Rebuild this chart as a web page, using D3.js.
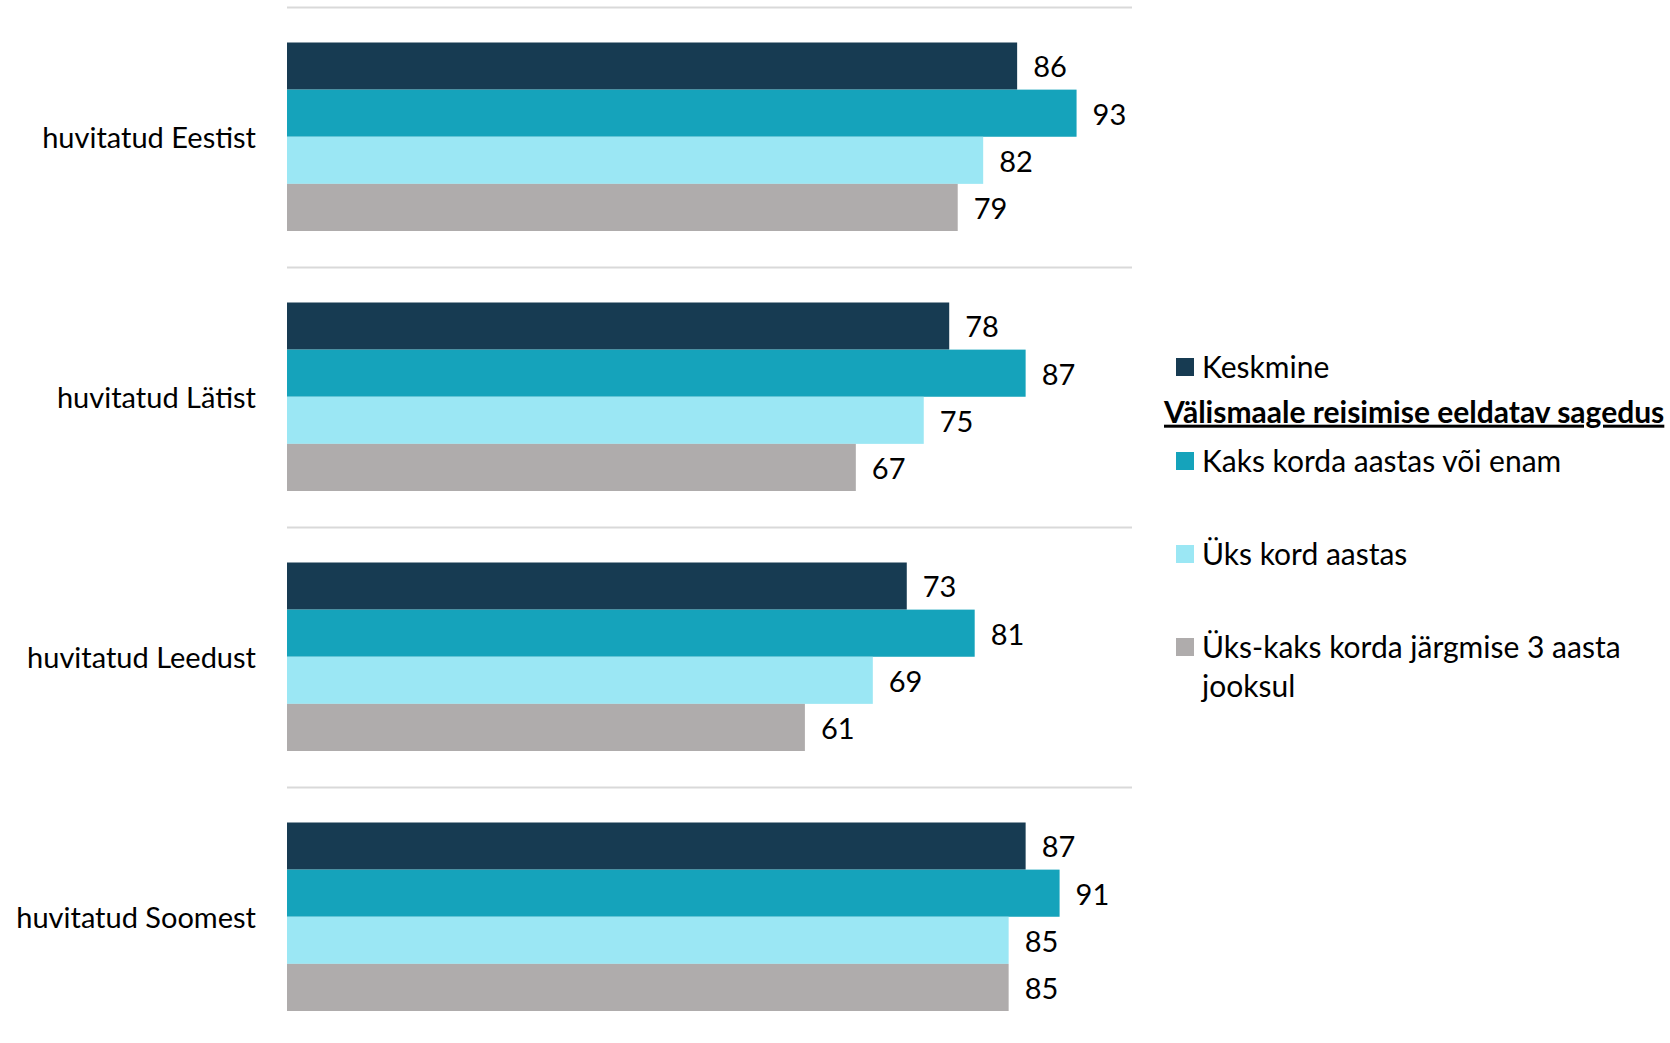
<!DOCTYPE html>
<html>
<head>
<meta charset="utf-8">
<script src="https://cdn.jsdelivr.net/npm/d3@7"></script>
<style>
  body { margin: 0; background: #fff; }
  text { font-family: Lato, "Open Sans", sans-serif; fill: #000; }
</style>
</head>
<body>
<script>
var categories = ["huvitatud Eestist", "huvitatud Lätist", "huvitatud Leedust", "huvitatud Soomest"];
var seriesNames = ["Keskmine", "Kaks korda aastas või enam", "Üks kord aastas", "Üks-kaks korda järgmise 3 aasta jooksul"];
var keskmine = [86, 78, 73, 87];
var kaksKorda = [93, 87, 81, 91];
var ksKord = [82, 75, 69, 85];
var yksKaks = [79, 67, 61, 85];
var legendTitle = "Välismaale reisimise eeldatav sagedus";

var colors = ["#173b52", "#15a3bb", "#9be7f4", "#afacac"];
var seriesValues = [keskmine, kaksKorda, ksKord, yksKaks];

window.onload = () => {
  var width = 1670, height = 1043;
  var svg = d3.select("body").append("svg")
    .attr("width", width)
    .attr("height", height);

  var x = d3.scaleLinear().domain([0, 100]).range([287, 1136]);
  var y0 = d3.scaleBand().domain(categories).range([7.5, 7.5 + 4 * 260]);
  var y1 = d3.scaleBand().domain(d3.range(4)).range([35, 223.5]);

  // gridlines at top of each category band
  svg.selectAll("line.grid")
    .data(categories)
    .enter().append("line")
    .attr("class", "grid")
    .attr("x1", 287).attr("x2", 1132)
    .attr("y1", function(d) { return y0(d); })
    .attr("y2", function(d) { return y0(d); })
    .attr("stroke", "#d9d9d9")
    .attr("stroke-width", 2);

  var groups = svg.selectAll("g.cat")
    .data(categories)
    .enter().append("g")
    .attr("class", "cat")
    .attr("transform", function(d) { return "translate(0," + y0(d) + ")"; });

  groups.append("text")
    .attr("x", 256)
    .attr("y", y0.bandwidth() / 2 + 3)
    .attr("text-anchor", "end")
    .attr("dominant-baseline", "middle")
    .attr("font-size", 29)
    .text(function(d) { return d; });

  groups.each(function(c, ci) {
    var g = d3.select(this);
    var rows = seriesValues.map(function(vals, si) { return { s: si, v: vals[ci] }; });
    g.selectAll("rect")
      .data(rows)
      .enter().append("rect")
      .attr("x", x(0))
      .attr("y", function(d) { return y1(d.s); })
      .attr("width", function(d) { return x(d.v) - x(0); })
      .attr("height", y1.bandwidth())
      .attr("fill", function(d) { return colors[d.s]; });
    g.selectAll("text.val")
      .data(rows)
      .enter().append("text")
      .attr("class", "val")
      .attr("x", function(d) { return x(d.v) + 16; })
      .attr("y", function(d) { return y1(d.s) + y1.bandwidth() / 2 + 4; })
      .attr("dominant-baseline", "middle")
      .attr("font-size", 29)
      .text(function(d) { return d.v; });
  });

  // legend
  var legend = svg.append("g");
  var legendY = [367, 461, 554, 647];
  seriesNames.forEach(function(name, i) {
    legend.append("rect")
      .attr("x", 1176).attr("y", legendY[i] - 9)
      .attr("width", 18).attr("height", 18)
      .attr("fill", colors[i]);
  });
  legend.selectAll("text.lg")
    .data([["Keskmine"], ["Kaks korda aastas või enam"], ["Üks kord aastas"], ["Üks-kaks korda järgmise 3 aasta", "jooksul"]])
    .enter().append("text")
    .attr("class", "lg")
    .attr("font-size", 30)
    .attr("x", 1202)
    .attr("y", function(d, i) { return legendY[i] + 3; })
    .attr("dominant-baseline", "middle")
    .each(function(lines) {
      var t = d3.select(this);
      lines.forEach(function(l, k) {
        t.append("tspan").attr("x", 1202).attr("dy", k === 0 ? 0 : 39).text(l);
      });
    });

  legend.append("text")
    .attr("x", 1164)
    .attr("y", 415)
    .attr("dominant-baseline", "middle")
    .attr("font-size", 30)
    .attr("font-weight", "bold")
    .attr("text-decoration", "underline")
    .text(legendTitle);
};
</script>
</body>
</html>
